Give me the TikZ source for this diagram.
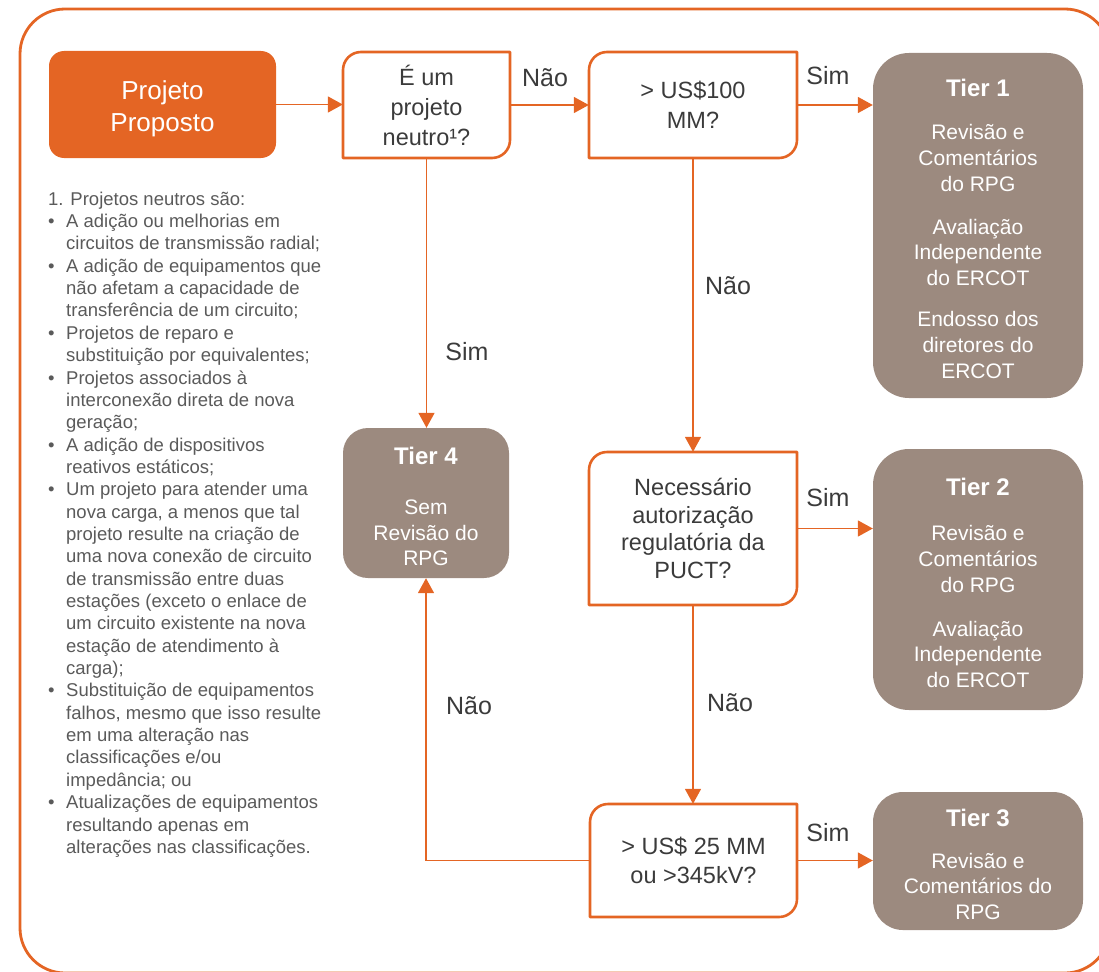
\documentclass[tikz,border=0pt]{standalone}
\usepackage{fontspec}
\setmainfont{Liberation Sans}
\usetikzlibrary{arrows.meta,calc}

\definecolor{orng}{HTML}{E46524}
\definecolor{tierfill}{HTML}{9C8A7F}
\definecolor{txtdark}{HTML}{3B3B3B}
\definecolor{txtlist}{HTML}{5A5A5A}

\tikzset{
  frame/.style={draw=orng, line width=2.8pt, rounded corners=45pt},
  startbox/.style={fill=orng, rounded corners=15pt, inner sep=0pt},
  starttext/.style={text=white, align=center, inner sep=0pt,
    font=\fontsize{26}{32}\selectfont},
  decline/.style={draw=orng, line width=2.6pt, line join=round},
  dectext/.style={inner sep=0pt, align=center, text=txtdark,
    font=\fontsize{23.5}{30}\selectfont},
  tierbox/.style={fill=tierfill, text=white, align=center, inner sep=0pt,
    font=\fontsize{21}{25.6}\selectfont},
  flow/.style={draw=orng, line width=1.6pt,
    -{Triangle[length=15pt,width=16pt]}},
  lbl/.style={text=txtdark, font=\fontsize{25}{30}\selectfont, inner sep=0pt},
  notes/.style={text=txtlist, align=left, inner sep=0pt,
    font=\fontsize{18.5}{22.35}\selectfont},
}

% decision box: top-left and bottom-right corners rounded
% #1 name, (#2,#3) top-left, (#4,#5) bottom-right, #6 extra node options, #7 text
\newcommand{\decbox}[7]{%
  \draw[decline] ({#2},{-(#3)-18}) arc[start angle=180,end angle=90,radius=18]
    -- ({#4},{-(#3)}) -- ({#4},{-(#5)+18})
    arc[start angle=0,end angle=-90,radius=18]
    -- ({#2},{-(#5)}) -- cycle;
  \node[dectext, minimum width={#4-#2}, minimum height={#5-#3}, #6] (#1)
    at ({(#2+#4)/2},{-(#3+#5)/2}) {#7};
}
\newcommand{\itembul}{\makebox[18pt][l]{•}}
\newcommand{\itemcont}{\hspace*{18pt}}
\newcommand{\tierhead}[1]{{\rule{0pt}{24pt}\fontsize{24}{25}\selectfont\bfseries #1}}

\begin{document}
\begin{tikzpicture}[x=1pt,y=1pt]
\useasboundingbox (0,0) rectangle (1099,-971);
\clip (0,0) rectangle (1099,-971);

% outer frame
\draw[frame] (20,-9) rectangle (1110,-973);

% start
\node[startbox, minimum width=227, minimum height=107] (pp) at (162.5,-104.5) {};
\node[starttext] (ppt) at ([yshift=-4pt]pp.center) {Projeto\\Proposto};

% decisions
\decbox{d1}{343}{52}{510}{158}{}{É um\\projeto\\neutro¹?}
\decbox{d2}{589}{52}{797}{158}{}{> US\$100\\MM?}
\decbox{d3}{589}{452}{797}{605}{font=\fontsize{23.5}{27.8}\selectfont}{Necessário\\autorização\\regulatória da\\PUCT?}
\decbox{d4}{590}{804}{797}{917}{font=\fontsize{23.5}{29}\selectfont}{> US\$ 25 MM\\ou >345kV?}

% tiers
\node[tierbox, minimum width=210, minimum height=345, rounded corners=36pt]
  (t1) at (978,-225.5)
  {\tierhead{Tier 1}\\[17.5pt]Revisão e\\Comentários\\do RPG\\[17.5pt]Avaliação\\Independente\\do ERCOT\\[16pt]Endosso dos\\diretores do\\ERCOT};
\node[tierbox, minimum width=210, minimum height=261, rounded corners=36pt]
  (t2) at (978,-579.5)
  {\tierhead{Tier 2}\\[20pt]Revisão e\\Comentários\\do RPG\\[18.5pt]Avaliação\\Independente\\do ERCOT};
\node[tierbox, minimum width=210, minimum height=138, rounded corners=30pt]
  (t3) at (978,-861)
  {\tierhead{Tier 3}\\[16pt]Revisão e\\Comentários do\\RPG};
\node[tierbox, minimum width=166, minimum height=150, rounded corners=25pt]
  (t4) at (426,-503)
  {\tierhead{Tier 4}\\[25pt]Sem\\Revisão do\\RPG};

% connectors
\draw[flow] (pp.east) -- (pp.east -| d1.west);
\draw[flow] (d1.east) -- (d2.west);
\draw[flow] (d2.east) -- (d2.east -| t1.west);
\draw[flow] (d1.south) -- (d1.south |- t4.north);
\draw[flow] (d2.south) -- (d3.north);
\draw[flow] (d3.east) -- (d3.east -| t2.west);
\draw[flow] (d3.south) -- (d3.south |- d4.north);
\draw[flow] (d4.east) -- (d4.east -| t3.west);
\draw[flow] (d4.west) -| (t4.south);

% connector labels
\node[lbl] (l1) at (545,-78) {Não};
\node[lbl] (l2) at (828,-76) {Sim};
\node[lbl] (l3) at (467,-352) {Sim};
\node[lbl] (l4) at (728,-286) {Não};
\node[lbl] (l5) at (828,-498) {Sim};
\node[lbl] (l6) at (730,-703) {Não};
\node[lbl] (l7) at (828,-833) {Sim};
\node[lbl] (l8) at (469,-706) {Não};

% footnote
\node[notes, anchor=north west] (fn) at (48,-190) {%
\rule{0pt}{15pt}1. Projetos neutros são:\\
\itembul A adição ou melhorias em\\
\itemcont circuitos de transmissão radial;\\
\itembul A adição de equipamentos que\\
\itemcont não afetam a capacidade de\\
\itemcont transferência de um circuito;\\
\itembul Projetos de reparo e\\
\itemcont substituição por equivalentes;\\
\itembul Projetos associados à\\
\itemcont interconexão direta de nova\\
\itemcont geração;\\
\itembul A adição de dispositivos\\
\itemcont reativos estáticos;\\
\itembul Um projeto para atender uma\\
\itemcont nova carga, a menos que tal\\
\itemcont projeto resulte na criação de\\
\itemcont uma nova conexão de circuito\\
\itemcont de transmissão entre duas\\
\itemcont estações (exceto o enlace de\\
\itemcont um circuito existente na nova\\
\itemcont estação de atendimento à\\
\itemcont carga);\\
\itembul Substituição de equipamentos\\
\itemcont falhos, mesmo que isso resulte\\
\itemcont em uma alteração nas\\
\itemcont classificações e/ou\\
\itemcont impedância; ou\\
\itembul Atualizações de equipamentos\\
\itemcont resultando apenas em\\
\itemcont alterações nas classificações.};
\end{tikzpicture}
\end{document}
